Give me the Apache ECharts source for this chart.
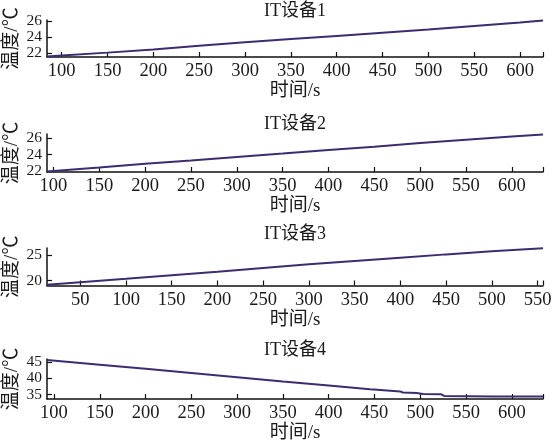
<!DOCTYPE html>
<html>
<head>
<meta charset="utf-8">
<script src="https://cdn.jsdelivr.net/npm/echarts@6/dist/echarts.min.js"></script>
<style>html,body{margin:0;padding:0;background:#fff}#c{width:552px;height:442px}</style>
</head>
<body>
<div id="c"></div>
<script>
// ---- data ----
var titles = ['IT设备1', 'IT设备2', 'IT设备3', 'IT设备4'];
var xName = '时间/s';
var yName = '温度/℃';

var t1 = [84, 100, 150, 200, 250, 300, 350, 400, 450, 500, 550, 600, 625];
var v1 = [21.55, 21.7, 22.05, 22.45, 22.9, 23.35, 23.75, 24.15, 24.55, 24.95, 25.4, 25.85, 26.1];

var t2 = [93, 150, 200, 250, 300, 350, 400, 450, 500, 550, 600, 634];
var v2 = [21.9, 22.4, 22.85, 23.25, 23.7, 24.1, 24.55, 24.95, 25.4, 25.8, 26.2, 26.45];

var t3 = [13.6, 50, 100, 150, 200, 250, 300, 350, 400, 450, 500, 556];
var v3 = [19.2, 19.7, 20.35, 21.05, 21.75, 22.5, 23.2, 23.85, 24.5, 25.15, 25.75, 26.35];

var t4 = [92.4, 150, 200, 250, 300, 350, 400, 445, 453, 455, 478, 481, 496, 503, 523, 526, 580, 634];
var v4 = [45.7, 44.25, 42.95, 41.65, 40.35, 39.05, 37.8, 36.65, 36.5, 36.1, 35.95, 35.6, 35.45, 35.15, 35.05, 34.55, 34.4, 34.35];

var xTicks1 = [100, 150, 200, 250, 300, 350, 400, 450, 500, 550, 600];
var xTicks2 = [100, 150, 200, 250, 300, 350, 400, 450, 500, 550, 600];
var xTicks3 = [50, 100, 150, 200, 250, 300, 350, 400, 450, 500, 550];
var xTicks4 = [100, 150, 200, 250, 300, 350, 400, 450, 500, 550, 600];
var yTicks1 = [22, 24, 26];
var yTicks2 = [22, 24, 26];
var yTicks3 = [20, 25];
var yTicks4 = [35, 40, 45];

var xRanges = [[84, 625], [93, 634], [13.6, 556], [92.4, 634]];
var yRanges = [[21.5, 26.15], [21.85, 26.5], [19.05, 26.4], [33.6, 46.0]];

// ---- layout ----
var FONT = "'Liberation Serif', 'Times New Roman', 'Noto Sans CJK SC', serif";
var TXT = '#1a1a1a';
var LINE = '#3b2d70';
var grids = [
  {left: 47, top: 20, width: 496, height: 37},
  {left: 47, top: 134, width: 496, height: 38},
  {left: 47, top: 248, width: 496, height: 37.5},
  {left: 47, top: 359, width: 496, height: 40}
];
var titleTops = [2, 115, 225, 341];
var ts = [t1, t2, t3, t4], vs = [v1, v2, v3, v4];
var xTicks = [xTicks1, xTicks2, xTicks3, xTicks4];
var yTicks = [yTicks1, yTicks2, yTicks3, yTicks4];

function pairs(t, v) { return t.map(function (x, i) { return [x, v[i]]; }); }

var option = {
  backgroundColor: '#fff',
  animation: false,
  title: titles.map(function (s, i) {
    return {text: s, left: 295, top: titleTops[i], textAlign: 'center', padding: 0,
      textStyle: {fontFamily: FONT, fontSize: 18, fontWeight: 'normal', color: TXT}};
  }),
  grid: grids.map(function (g) {
    return Object.assign({containLabel: false, outerBoundsMode: 'none'}, g);
  }),
  xAxis: grids.map(function (g, i) {
    return {
      type: 'value', gridIndex: i, min: xRanges[i][0], max: xRanges[i][1],
      name: xName, nameLocation: 'middle', nameGap: 25, nameMoveOverlap: false,
      nameTextStyle: {fontFamily: FONT, fontSize: 19, color: TXT},
      axisLine: {show: true, onZero: false, lineStyle: {color: '#111', width: 1.5}},
      axisTick: {show: true, inside: true, length: 5, lineStyle: {color: '#111', width: 1.2},
        customValues: xTicks[i].concat([xRanges[i][1]])},
      axisLabel: {show: true, margin: 5, fontFamily: FONT, fontSize: 18.5, color: TXT,
        hideOverlap: false, customValues: xTicks[i]},
      splitLine: {show: false}
    };
  }),
  yAxis: grids.map(function (g, i) {
    return {
      type: 'value', gridIndex: i, min: yRanges[i][0], max: yRanges[i][1],
      name: yName, nameLocation: 'middle', nameGap: 25, nameMoveOverlap: false,
      nameTextStyle: {fontFamily: FONT, fontSize: 19, color: TXT},
      axisLine: {show: true, onZero: false, lineStyle: {color: '#111', width: 1.5}},
      axisTick: {show: true, inside: true, length: 5,
        lineStyle: {color: '#111', width: 1.2}, customValues: yTicks[i]},
      axisLabel: {show: true, margin: 5, fontFamily: FONT, fontSize: 15.5,
        color: TXT, hideOverlap: false, customValues: yTicks[i]},
      splitLine: {show: false}
    };
  }),
  series: ts.map(function (t, i) {
    return {type: 'line', xAxisIndex: i, yAxisIndex: i, data: pairs(t, vs[i]),
      showSymbol: false, symbol: 'none', lineStyle: {color: LINE, width: 2}, silent: true};
  })
};
var chart = echarts.init(document.getElementById('c'), null, {renderer: 'canvas'});
chart.setOption(option);
</script>
</body>
</html>
